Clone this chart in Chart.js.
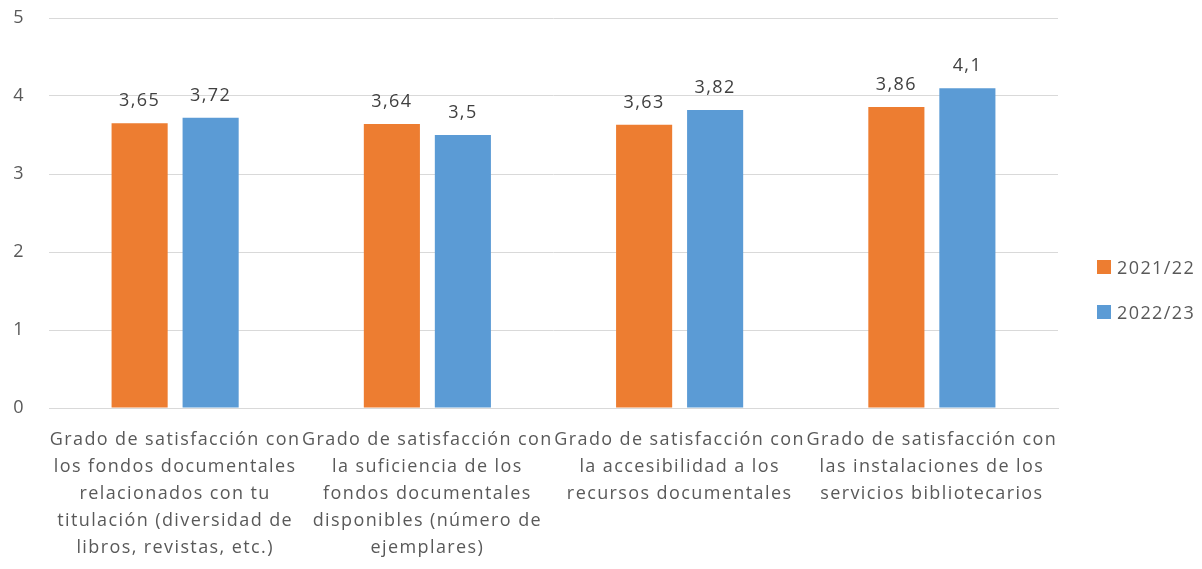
<!DOCTYPE html>
<html>
<head>
<meta charset="utf-8">
<script src="https://cdn.jsdelivr.net/npm/chart.js@4"></script>
<style>
    html, body { margin: 0; padding: 0; background: #fff; }
    #wrap { position: relative; width: 1202px; height: 569px; }
    #legend { position: absolute; left: 1097px; top: 255px; font-family: 'Open Sans', sans-serif; font-size: 18px; letter-spacing: 1.4px; color: #595959; }
    #legend div { height: 45px; display: flex; align-items: flex-start; }
    #legend span.box { display: inline-block; width: 14px; height: 14px; margin: 5px 6px 0 0; }
</style>
</head>
<body>
<div id="wrap">
    <canvas id="chart" width="1202" height="569"></canvas>
    <div id="legend"></div>
</div>
<script>
    const categories = [
        ['Grado de satisfacción con', 'los fondos documentales', 'relacionados con tu', 'titulación (diversidad de', 'libros, revistas, etc.)'],
        ['Grado de satisfacción con', 'la suficiencia de los', 'fondos documentales', 'disponibles (número de', 'ejemplares)'],
        ['Grado de satisfacción con', 'la accesibilidad a los', 'recursos documentales'],
        ['Grado de satisfacción con', 'las instalaciones de los', 'servicios bibliotecarios']
    ];
    const seriesNames = ['2021/22', '2022/23'];
    const values2122 = [3.65, 3.64, 3.63, 3.86];
    const values2223 = [3.72, 3.5, 3.82, 4.1];
    const seriesColors = ['#ED7D31', '#5B9BD5'];
    const yTicks = [0, 1, 2, 3, 4, 5];

    //wider letter spacing, closer to the original office font
    const spacing = {
        id: 'spacing',
        afterInit(chart) { chart.ctx.letterSpacing = '1.4px'; },
        beforeUpdate(chart) { chart.ctx.letterSpacing = '1.4px'; }
    };

    //data labels above bars
    const barLabels = {
        id: 'barLabels',
        afterDatasetsDraw(chart) {
            const ctx = chart.ctx;
            ctx.save();
            ctx.font = '18px "Open Sans", sans-serif';
            ctx.fillStyle = '#404040';
            ctx.textAlign = 'center';
            ctx.textBaseline = 'middle';
            chart.data.datasets.forEach((ds, i) => {
                chart.getDatasetMeta(i).data.forEach((bar, j) => {
                    const txt = String(ds.data[j]).replace('.', ',');
                    ctx.fillText(txt, bar.x, bar.y - 22);
                });
            });
            ctx.restore();
        }
    };

    const ctx = document.getElementById('chart');
    const myChart = new Chart(ctx, {
        type: 'bar',
        data: {
            labels: categories,
            datasets: [
                { label: seriesNames[0], data: values2122, backgroundColor: seriesColors[0] },
                { label: seriesNames[1], data: values2223, backgroundColor: seriesColors[1] }
            ]
        },
        options: {
            responsive: false,
            animation: false,
            categoryPercentage: 0.563,
            barPercentage: 0.79,
            layout: { padding: { top: 18, right: 144, bottom: 0, left: 0 } },
            plugins: {
                legend: { display: false },
                tooltip: { enabled: false }
            },
            scales: {
                x: {
                    grid: { display: false, drawTicks: false },
                    border: { color: '#d9d9d9', width: 1 },
                    ticks: {
                        autoSkip: false,
                        maxRotation: 0,
                        padding: 18,
                        color: '#595959',
                        font: { family: '"Open Sans", sans-serif', size: 18, lineHeight: 1.5 }
                    },
                    afterFit: scale => { scale.height = 161; }
                },
                y: {
                    min: 0,
                    max: 5,
                    afterBuildTicks: scale => { scale.ticks = yTicks.map(v => ({ value: v })); },
                    grid: { color: '#d9d9d9', drawTicks: false },
                    border: { display: false },
                    ticks: {
                        padding: 24,
                        color: '#595959',
                        font: { family: '"Open Sans", sans-serif', size: 18 }
                    },
                    afterFit: scale => {
                        scale.width = 49;
                        scale.paddingTop = 0;
                        scale.paddingBottom = 0;
                    }
                }
            }
        },
        plugins: [spacing, barLabels]
    });

    //legend
    const legendEl = document.getElementById('legend');
    seriesNames.forEach((name, i) => {
        const row = document.createElement('div');
        row.innerHTML = '<span class="box" style="background:' + seriesColors[i] + '"></span>' + name;
        legendEl.appendChild(row);
    });
</script>
</body>
</html>
